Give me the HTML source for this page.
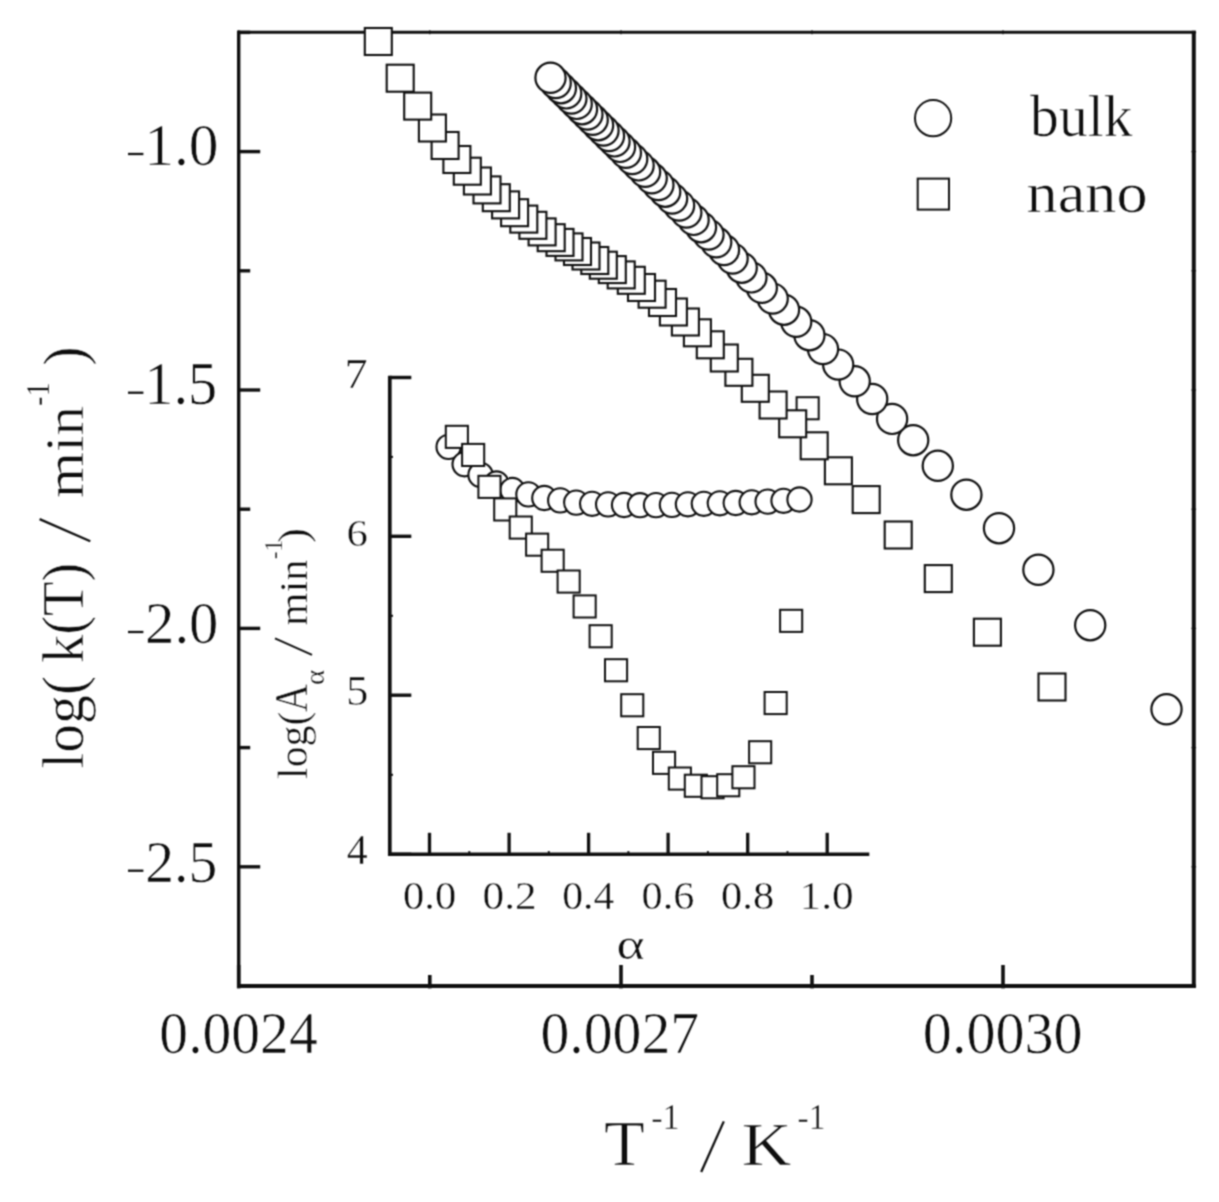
<!DOCTYPE html>
<html><head><meta charset="utf-8"><title>chart</title>
<style>
html,body{margin:0;padding:0;background:#fff;}
body{width:1219px;height:1202px;overflow:hidden;}
svg{display:block;}
text{font-family:"Liberation Serif",serif;fill:#0e0e0e;stroke:#fff;stroke-width:1.1;paint-order:fill stroke;}
.ln{stroke:#101010;fill:none;stroke-linecap:butt;}
.mk{stroke:#101010;fill:#fff;}
</style></head><body>
<svg width="1219" height="1202" viewBox="0 0 1219 1202">
<defs><filter id="soft" color-interpolation-filters="sRGB" x="0" y="0" width="100%" height="100%"><feConvolveMatrix order="3" kernelMatrix="0.05290 0.12420 0.05290 0.12420 0.29160 0.12420 0.05290 0.12420 0.05290" edgeMode="duplicate" preserveAlpha="true"/></filter></defs>
<g filter="url(#soft)">
<rect x="-5" y="-5" width="1229" height="1212" fill="#fff"/>
<line class="ln" x1="238.7" y1="30.8" x2="238.7" y2="988.0" stroke-width="3.40"/>
<line class="ln" x1="237.0" y1="32.3" x2="1195.8" y2="32.3" stroke-width="3.10"/>
<line class="ln" x1="1193.8" y1="30.8" x2="1193.8" y2="988.0" stroke-width="4.00"/>
<line class="ln" x1="237.0" y1="986.0" x2="1195.8" y2="986.0" stroke-width="4.10"/>
<line class="ln" x1="238.7" y1="151.6" x2="260.2" y2="151.6" stroke-width="3.40"/>
<line class="ln" x1="1191.5" y1="151.6" x2="1196.1" y2="151.6" stroke-width="1.20"/>
<line class="ln" x1="238.7" y1="390.0" x2="260.2" y2="390.0" stroke-width="3.40"/>
<line class="ln" x1="1191.5" y1="390.0" x2="1196.1" y2="390.0" stroke-width="1.20"/>
<line class="ln" x1="238.7" y1="628.4" x2="260.2" y2="628.4" stroke-width="3.40"/>
<line class="ln" x1="1191.5" y1="628.4" x2="1196.1" y2="628.4" stroke-width="1.20"/>
<line class="ln" x1="238.7" y1="866.8" x2="260.2" y2="866.8" stroke-width="3.40"/>
<line class="ln" x1="1191.5" y1="866.8" x2="1196.1" y2="866.8" stroke-width="1.20"/>
<line class="ln" x1="238.7" y1="32.4" x2="250.2" y2="32.4" stroke-width="3.40"/>
<line class="ln" x1="1191.5" y1="32.4" x2="1196.1" y2="32.4" stroke-width="1.20"/>
<line class="ln" x1="238.7" y1="270.8" x2="250.2" y2="270.8" stroke-width="3.40"/>
<line class="ln" x1="1191.5" y1="270.8" x2="1196.1" y2="270.8" stroke-width="1.20"/>
<line class="ln" x1="238.7" y1="509.2" x2="250.2" y2="509.2" stroke-width="3.40"/>
<line class="ln" x1="1191.5" y1="509.2" x2="1196.1" y2="509.2" stroke-width="1.20"/>
<line class="ln" x1="238.7" y1="747.6" x2="250.2" y2="747.6" stroke-width="3.40"/>
<line class="ln" x1="1191.5" y1="747.6" x2="1196.1" y2="747.6" stroke-width="1.20"/>
<line class="ln" x1="238.7" y1="986.0" x2="250.2" y2="986.0" stroke-width="3.40"/>
<line class="ln" x1="1191.5" y1="986.0" x2="1196.1" y2="986.0" stroke-width="1.20"/>
<line class="ln" x1="238.7" y1="988.4" x2="238.7" y2="965.0" stroke-width="3.60"/>
<line class="ln" x1="238.7" y1="30.3" x2="238.7" y2="34.2" stroke-width="1.20"/>
<line class="ln" x1="621.0" y1="988.4" x2="621.0" y2="965.0" stroke-width="3.60"/>
<line class="ln" x1="621.0" y1="30.3" x2="621.0" y2="34.2" stroke-width="1.20"/>
<line class="ln" x1="1003.0" y1="988.4" x2="1003.0" y2="965.0" stroke-width="3.60"/>
<line class="ln" x1="1003.0" y1="30.3" x2="1003.0" y2="34.2" stroke-width="1.20"/>
<line class="ln" x1="429.8" y1="988.4" x2="429.8" y2="975.0" stroke-width="3.60"/>
<line class="ln" x1="429.8" y1="30.3" x2="429.8" y2="34.2" stroke-width="1.20"/>
<line class="ln" x1="812.0" y1="988.4" x2="812.0" y2="975.0" stroke-width="3.60"/>
<line class="ln" x1="812.0" y1="30.3" x2="812.0" y2="34.2" stroke-width="1.20"/>
<line class="ln" x1="389.8" y1="375.8" x2="389.8" y2="856.1" stroke-width="3.70"/>
<line class="ln" x1="388.0" y1="854.3" x2="869.3" y2="854.3" stroke-width="3.50"/>
<line class="ln" x1="389.8" y1="377.5" x2="411.3" y2="377.5" stroke-width="3.40"/>
<line class="ln" x1="389.8" y1="536.3" x2="411.3" y2="536.3" stroke-width="3.40"/>
<line class="ln" x1="389.8" y1="695.2" x2="411.3" y2="695.2" stroke-width="3.40"/>
<line class="ln" x1="389.8" y1="854.3" x2="411.3" y2="854.3" stroke-width="3.40"/>
<line class="ln" x1="389.8" y1="456.9" x2="393.0" y2="456.9" stroke-width="2.00"/>
<line class="ln" x1="389.8" y1="615.8" x2="393.0" y2="615.8" stroke-width="2.00"/>
<line class="ln" x1="389.8" y1="774.8" x2="393.0" y2="774.8" stroke-width="2.00"/>
<line class="ln" x1="429.5" y1="855.8" x2="429.5" y2="832.8" stroke-width="3.30"/>
<line class="ln" x1="509.1" y1="855.8" x2="509.1" y2="832.8" stroke-width="3.30"/>
<line class="ln" x1="588.6" y1="855.8" x2="588.6" y2="832.8" stroke-width="3.30"/>
<line class="ln" x1="668.1" y1="855.8" x2="668.1" y2="832.8" stroke-width="3.30"/>
<line class="ln" x1="747.7" y1="855.8" x2="747.7" y2="832.8" stroke-width="3.30"/>
<line class="ln" x1="827.2" y1="855.8" x2="827.2" y2="832.8" stroke-width="3.30"/>
<line class="ln" x1="469.3" y1="854.3" x2="469.3" y2="851.1" stroke-width="2.00"/>
<line class="ln" x1="548.8" y1="854.3" x2="548.8" y2="851.1" stroke-width="2.00"/>
<line class="ln" x1="628.4" y1="854.3" x2="628.4" y2="851.1" stroke-width="2.00"/>
<line class="ln" x1="707.9" y1="854.3" x2="707.9" y2="851.1" stroke-width="2.00"/>
<line class="ln" x1="787.5" y1="854.3" x2="787.5" y2="851.1" stroke-width="2.00"/>
<circle class="mk" cx="448.6" cy="446.9" r="12.1" stroke-width="2.1"/>
<circle class="mk" cx="464.6" cy="464.3" r="12.1" stroke-width="2.1"/>
<circle class="mk" cx="480.5" cy="474.9" r="12.1" stroke-width="2.1"/>
<circle class="mk" cx="496.5" cy="483.5" r="12.1" stroke-width="2.1"/>
<circle class="mk" cx="512.4" cy="490.0" r="12.1" stroke-width="2.1"/>
<circle class="mk" cx="528.4" cy="494.4" r="12.1" stroke-width="2.1"/>
<circle class="mk" cx="544.3" cy="498.0" r="12.1" stroke-width="2.1"/>
<circle class="mk" cx="560.2" cy="500.4" r="12.1" stroke-width="2.1"/>
<circle class="mk" cx="576.2" cy="502.6" r="12.1" stroke-width="2.1"/>
<circle class="mk" cx="592.1" cy="503.8" r="12.1" stroke-width="2.1"/>
<circle class="mk" cx="608.1" cy="504.4" r="12.1" stroke-width="2.1"/>
<circle class="mk" cx="624.0" cy="505.0" r="12.1" stroke-width="2.1"/>
<circle class="mk" cx="640.0" cy="505.2" r="12.1" stroke-width="2.1"/>
<circle class="mk" cx="656.0" cy="505.1" r="12.1" stroke-width="2.1"/>
<circle class="mk" cx="671.9" cy="504.9" r="12.1" stroke-width="2.1"/>
<circle class="mk" cx="687.9" cy="504.3" r="12.1" stroke-width="2.1"/>
<circle class="mk" cx="703.8" cy="503.8" r="12.1" stroke-width="2.1"/>
<circle class="mk" cx="719.8" cy="503.3" r="12.1" stroke-width="2.1"/>
<circle class="mk" cx="735.7" cy="503.0" r="12.1" stroke-width="2.1"/>
<circle class="mk" cx="751.7" cy="502.3" r="12.1" stroke-width="2.1"/>
<circle class="mk" cx="767.6" cy="501.6" r="12.1" stroke-width="2.1"/>
<circle class="mk" cx="783.5" cy="500.8" r="12.1" stroke-width="2.1"/>
<circle class="mk" cx="799.5" cy="499.5" r="12.1" stroke-width="2.1"/>
<rect class="mk" x="445.8" y="425.8" width="22.1" height="22.1" stroke-width="2.0"/>
<rect class="mk" x="462.1" y="443.9" width="22.1" height="22.1" stroke-width="2.0"/>
<rect class="mk" x="478.4" y="475.8" width="22.1" height="22.1" stroke-width="2.0"/>
<rect class="mk" x="494.2" y="498.4" width="22.1" height="22.1" stroke-width="2.0"/>
<rect class="mk" x="509.7" y="516.5" width="22.1" height="22.1" stroke-width="2.0"/>
<rect class="mk" x="526.1" y="533.6" width="22.1" height="22.1" stroke-width="2.0"/>
<rect class="mk" x="541.6" y="549.7" width="22.1" height="22.1" stroke-width="2.0"/>
<rect class="mk" x="557.6" y="570.5" width="22.1" height="22.1" stroke-width="2.0"/>
<rect class="mk" x="573.6" y="595.4" width="22.1" height="22.1" stroke-width="2.0"/>
<rect class="mk" x="589.6" y="625.2" width="22.1" height="22.1" stroke-width="2.0"/>
<rect class="mk" x="605.0" y="659.2" width="22.1" height="22.1" stroke-width="2.0"/>
<rect class="mk" x="621.2" y="694.2" width="22.1" height="22.1" stroke-width="2.0"/>
<rect class="mk" x="637.7" y="727.0" width="22.1" height="22.1" stroke-width="2.0"/>
<rect class="mk" x="653.0" y="751.8" width="22.1" height="22.1" stroke-width="2.0"/>
<rect class="mk" x="668.8" y="767.5" width="22.1" height="22.1" stroke-width="2.0"/>
<rect class="mk" x="684.8" y="774.7" width="22.1" height="22.1" stroke-width="2.0"/>
<rect class="mk" x="701.5" y="776.2" width="22.1" height="22.1" stroke-width="2.0"/>
<rect class="mk" x="717.2" y="774.2" width="22.1" height="22.1" stroke-width="2.0"/>
<rect class="mk" x="732.4" y="766.2" width="22.1" height="22.1" stroke-width="2.0"/>
<rect class="mk" x="749.1" y="741.2" width="22.1" height="22.1" stroke-width="2.0"/>
<rect class="mk" x="764.6" y="692.0" width="22.1" height="22.1" stroke-width="2.0"/>
<rect class="mk" x="780.1" y="609.8" width="22.1" height="22.1" stroke-width="2.0"/>
<rect class="mk" x="796.6" y="397.2" width="22.1" height="22.1" stroke-width="2.0"/>
<circle class="mk" cx="1166.5" cy="709.3" r="15.1" stroke-width="2.2"/>
<circle class="mk" cx="1090.2" cy="625.2" r="15.1" stroke-width="2.2"/>
<circle class="mk" cx="1038.4" cy="569.8" r="15.1" stroke-width="2.2"/>
<circle class="mk" cx="999.0" cy="528.2" r="15.1" stroke-width="2.2"/>
<circle class="mk" cx="966.4" cy="494.7" r="15.1" stroke-width="2.2"/>
<circle class="mk" cx="937.8" cy="465.8" r="15.1" stroke-width="2.2"/>
<circle class="mk" cx="913.2" cy="440.2" r="15.1" stroke-width="2.2"/>
<circle class="mk" cx="892.1" cy="418.9" r="15.1" stroke-width="2.2"/>
<circle class="mk" cx="872.2" cy="399.0" r="15.1" stroke-width="2.2"/>
<circle class="mk" cx="854.7" cy="381.3" r="15.1" stroke-width="2.2"/>
<circle class="mk" cx="838.2" cy="364.6" r="15.1" stroke-width="2.2"/>
<circle class="mk" cx="823.0" cy="349.1" r="15.1" stroke-width="2.2"/>
<circle class="mk" cx="809.4" cy="335.2" r="15.1" stroke-width="2.2"/>
<circle class="mk" cx="796.2" cy="321.8" r="15.1" stroke-width="2.2"/>
<circle class="mk" cx="784.0" cy="309.7" r="15.1" stroke-width="2.2"/>
<circle class="mk" cx="772.7" cy="298.6" r="15.1" stroke-width="2.2"/>
<circle class="mk" cx="761.8" cy="287.8" r="15.1" stroke-width="2.2"/>
<circle class="mk" cx="751.4" cy="277.4" r="15.1" stroke-width="2.2"/>
<circle class="mk" cx="741.7" cy="267.7" r="15.1" stroke-width="2.2"/>
<circle class="mk" cx="732.6" cy="258.6" r="15.1" stroke-width="2.2"/>
<circle class="mk" cx="724.0" cy="250.0" r="15.1" stroke-width="2.2"/>
<circle class="mk" cx="716.2" cy="242.3" r="15.1" stroke-width="2.2"/>
<circle class="mk" cx="708.5" cy="234.6" r="15.1" stroke-width="2.2"/>
<circle class="mk" cx="701.0" cy="227.2" r="15.1" stroke-width="2.2"/>
<circle class="mk" cx="693.6" cy="219.9" r="15.1" stroke-width="2.2"/>
<circle class="mk" cx="686.3" cy="212.6" r="15.1" stroke-width="2.2"/>
<circle class="mk" cx="679.1" cy="205.5" r="15.1" stroke-width="2.2"/>
<circle class="mk" cx="672.1" cy="198.6" r="15.1" stroke-width="2.2"/>
<circle class="mk" cx="665.2" cy="191.7" r="15.1" stroke-width="2.2"/>
<circle class="mk" cx="658.4" cy="185.0" r="15.1" stroke-width="2.2"/>
<circle class="mk" cx="651.7" cy="178.3" r="15.1" stroke-width="2.2"/>
<circle class="mk" cx="645.1" cy="171.8" r="15.1" stroke-width="2.2"/>
<circle class="mk" cx="638.6" cy="165.4" r="15.1" stroke-width="2.2"/>
<circle class="mk" cx="632.2" cy="159.0" r="15.1" stroke-width="2.2"/>
<circle class="mk" cx="625.9" cy="152.8" r="15.1" stroke-width="2.2"/>
<circle class="mk" cx="620.0" cy="146.9" r="15.1" stroke-width="2.2"/>
<circle class="mk" cx="614.5" cy="141.4" r="15.1" stroke-width="2.2"/>
<circle class="mk" cx="609.0" cy="136.0" r="15.1" stroke-width="2.2"/>
<circle class="mk" cx="603.5" cy="130.5" r="15.1" stroke-width="2.2"/>
<circle class="mk" cx="598.1" cy="125.2" r="15.1" stroke-width="2.2"/>
<circle class="mk" cx="592.7" cy="119.8" r="15.1" stroke-width="2.2"/>
<circle class="mk" cx="587.4" cy="114.5" r="15.1" stroke-width="2.2"/>
<circle class="mk" cx="582.0" cy="109.2" r="15.1" stroke-width="2.2"/>
<circle class="mk" cx="576.7" cy="103.9" r="15.1" stroke-width="2.2"/>
<circle class="mk" cx="571.4" cy="98.6" r="15.1" stroke-width="2.2"/>
<circle class="mk" cx="566.2" cy="93.4" r="15.1" stroke-width="2.2"/>
<circle class="mk" cx="560.9" cy="88.2" r="15.1" stroke-width="2.2"/>
<circle class="mk" cx="555.7" cy="83.0" r="15.1" stroke-width="2.2"/>
<circle class="mk" cx="550.5" cy="77.8" r="15.1" stroke-width="2.2"/>
<rect class="mk" x="1038.5" y="673.5" width="27.0" height="27.0" stroke-width="2.1"/>
<rect class="mk" x="973.9" y="618.7" width="27.0" height="27.0" stroke-width="2.1"/>
<rect class="mk" x="924.8" y="565.1" width="27.0" height="27.0" stroke-width="2.1"/>
<rect class="mk" x="884.7" y="521.5" width="27.0" height="27.0" stroke-width="2.1"/>
<rect class="mk" x="852.7" y="486.1" width="27.0" height="27.0" stroke-width="2.1"/>
<rect class="mk" x="824.9" y="457.3" width="27.0" height="27.0" stroke-width="2.1"/>
<rect class="mk" x="800.7" y="432.3" width="27.0" height="27.0" stroke-width="2.1"/>
<rect class="mk" x="779.2" y="410.3" width="27.0" height="27.0" stroke-width="2.1"/>
<rect class="mk" x="759.6" y="391.5" width="27.0" height="27.0" stroke-width="2.1"/>
<rect class="mk" x="741.8" y="374.8" width="27.0" height="27.0" stroke-width="2.1"/>
<rect class="mk" x="725.4" y="358.8" width="27.0" height="27.0" stroke-width="2.1"/>
<rect class="mk" x="710.8" y="344.5" width="27.0" height="27.0" stroke-width="2.1"/>
<rect class="mk" x="696.8" y="331.3" width="27.0" height="27.0" stroke-width="2.1"/>
<rect class="mk" x="683.9" y="319.3" width="27.0" height="27.0" stroke-width="2.1"/>
<rect class="mk" x="671.9" y="308.5" width="27.0" height="27.0" stroke-width="2.1"/>
<rect class="mk" x="659.9" y="298.5" width="27.0" height="27.0" stroke-width="2.1"/>
<rect class="mk" x="649.0" y="289.0" width="27.0" height="27.0" stroke-width="2.1"/>
<rect class="mk" x="638.6" y="280.7" width="27.0" height="27.0" stroke-width="2.1"/>
<rect class="mk" x="628.0" y="274.0" width="27.0" height="27.0" stroke-width="2.1"/>
<rect class="mk" x="617.8" y="266.8" width="27.0" height="27.0" stroke-width="2.1"/>
<rect class="mk" x="607.7" y="261.4" width="27.0" height="27.0" stroke-width="2.1"/>
<rect class="mk" x="598.8" y="256.1" width="27.0" height="27.0" stroke-width="2.1"/>
<rect class="mk" x="589.8" y="251.7" width="27.0" height="27.0" stroke-width="2.1"/>
<rect class="mk" x="581.3" y="247.0" width="27.0" height="27.0" stroke-width="2.1"/>
<rect class="mk" x="572.5" y="242.5" width="27.0" height="27.0" stroke-width="2.1"/>
<rect class="mk" x="564.0" y="238.0" width="27.0" height="27.0" stroke-width="2.1"/>
<rect class="mk" x="555.5" y="233.4" width="27.0" height="27.0" stroke-width="2.1"/>
<rect class="mk" x="546.5" y="228.9" width="27.0" height="27.0" stroke-width="2.1"/>
<rect class="mk" x="537.7" y="224.2" width="27.0" height="27.0" stroke-width="2.1"/>
<rect class="mk" x="528.6" y="218.4" width="27.0" height="27.0" stroke-width="2.1"/>
<rect class="mk" x="519.4" y="211.8" width="27.0" height="27.0" stroke-width="2.1"/>
<rect class="mk" x="510.3" y="205.6" width="27.0" height="27.0" stroke-width="2.1"/>
<rect class="mk" x="501.1" y="199.2" width="27.0" height="27.0" stroke-width="2.1"/>
<rect class="mk" x="492.1" y="191.4" width="27.0" height="27.0" stroke-width="2.1"/>
<rect class="mk" x="482.8" y="184.2" width="27.0" height="27.0" stroke-width="2.1"/>
<rect class="mk" x="473.5" y="176.4" width="27.0" height="27.0" stroke-width="2.1"/>
<rect class="mk" x="463.9" y="167.5" width="27.0" height="27.0" stroke-width="2.1"/>
<rect class="mk" x="453.8" y="157.7" width="27.0" height="27.0" stroke-width="2.1"/>
<rect class="mk" x="443.4" y="146.0" width="27.0" height="27.0" stroke-width="2.1"/>
<rect class="mk" x="431.6" y="132.0" width="27.0" height="27.0" stroke-width="2.1"/>
<rect class="mk" x="418.9" y="114.5" width="27.0" height="27.0" stroke-width="2.1"/>
<rect class="mk" x="404.2" y="92.6" width="27.0" height="27.0" stroke-width="2.1"/>
<rect class="mk" x="386.7" y="64.7" width="27.0" height="27.0" stroke-width="2.1"/>
<rect class="mk" x="364.8" y="28.0" width="27.0" height="27.0" stroke-width="2.1"/>
<circle class="mk" cx="933.1" cy="118.2" r="18.1" stroke-width="2"/>
<rect class="mk" x="917.7" y="178.6" width="31.3" height="31.0" stroke-width="2"/>
<text transform="translate(144.20,164.92) scale(0.5947,0.5897)" font-size="100">1.0</text>
<text transform="translate(144.29,403.59) scale(0.5844,0.6059)" font-size="100">1.5</text>
<text transform="translate(145.10,642.90) scale(0.5872,0.5985)" font-size="100">2.0</text>
<text transform="translate(145.15,881.60) scale(0.5773,0.6007)" font-size="100">2.5</text>
<line class="ln" x1="128.0" y1="154.0" x2="143.4" y2="154.0" stroke-width="2.3"/>
<line class="ln" x1="128.0" y1="392.7" x2="143.4" y2="392.7" stroke-width="2.3"/>
<line class="ln" x1="128.0" y1="632.0" x2="143.4" y2="632.0" stroke-width="2.3"/>
<line class="ln" x1="128.0" y1="870.7" x2="143.4" y2="870.7" stroke-width="2.3"/>
<text transform="translate(159.34,1053.02) scale(0.5761,0.5868)" font-size="100">0.0024</text>
<text transform="translate(540.44,1053.02) scale(0.5773,0.5868)" font-size="100">0.0027</text>
<text transform="translate(922.82,1053.02) scale(0.5813,0.5868)" font-size="100">0.0030</text>
<text transform="translate(1030.10,135.92) scale(0.5761,0.5830)" font-size="100">bulk</text>
<text transform="translate(1026.60,211.72) scale(0.6223,0.5792)" font-size="100">nano</text>
<text transform="translate(604.03,1164.90) scale(0.6684,0.6321)" font-size="100">T</text>
<text transform="translate(651.21,1128.90) scale(0.3429,0.3591)" font-size="100">-1</text>
<text transform="translate(741.81,1164.90) scale(0.6891,0.6229)" font-size="100">K</text>
<text transform="translate(797.54,1128.90) scale(0.3347,0.3591)" font-size="100">-1</text>
<line class="ln" x1="701.2" y1="1172.0" x2="723.8" y2="1121.4" stroke-width="2.3"/>
<text transform="translate(82.90,768.75) rotate(-90) scale(0.5766,0.5885)" font-size="100">log(</text>
<text transform="translate(82.90,662.93) rotate(-90) scale(0.5644,0.5885)" font-size="100">k(T)</text>
<line class="ln" x1="90.3" y1="541.3" x2="39.6" y2="519.1" stroke-width="2.3"/>
<text transform="translate(82.90,497.88) rotate(-90) scale(0.5908,0.5532)" font-size="100">min</text>
<text transform="translate(48.90,405.97) rotate(-90) scale(0.2857,0.3470)" font-size="100">-1</text>
<text transform="translate(84.28,365.78) rotate(-90) scale(0.5786,0.5939)" font-size="100">)</text>
<text transform="translate(344.49,388.10) scale(0.4638,0.4168)" font-size="100">7</text>
<text transform="translate(346.58,545.72) scale(0.4281,0.3822)" font-size="100">6</text>
<text transform="translate(346.36,704.98) scale(0.4422,0.4195)" font-size="100">5</text>
<text transform="translate(346.66,864.10) scale(0.4194,0.4137)" font-size="100">4</text>
<text transform="translate(403.10,909.20) scale(0.4255,0.4015)" font-size="100">0.0</text>
<text transform="translate(482.58,909.20) scale(0.4320,0.4015)" font-size="100">0.2</text>
<text transform="translate(562.13,909.20) scale(0.4175,0.4015)" font-size="100">0.4</text>
<text transform="translate(641.61,909.20) scale(0.4228,0.4015)" font-size="100">0.6</text>
<text transform="translate(721.10,909.20) scale(0.4255,0.4015)" font-size="100">0.8</text>
<text transform="translate(799.61,909.20) scale(0.4329,0.4015)" font-size="100">1.0</text>
<text transform="translate(616.39,958.65) scale(0.5355,0.4497)" font-size="100">α</text>
<text transform="translate(306.60,778.94) rotate(-90) scale(0.4186,0.4273)" font-size="100">log(</text>
<text transform="translate(306.60,712.09) rotate(-90) scale(0.3872,0.4591)" font-size="100">A</text>
<text transform="translate(324.32,684.88) rotate(-90) scale(0.2882,0.2777)" font-size="100">α</text>
<line class="ln" x1="312.0" y1="654.9" x2="275.0" y2="638.4" stroke-width="2.0"/>
<text transform="translate(306.60,625.65) rotate(-90) scale(0.4250,0.4085)" font-size="100">min</text>
<text transform="translate(281.50,559.29) rotate(-90) scale(0.2367,0.2470)" font-size="100">-1</text>
<text transform="translate(307.37,542.96) rotate(-90) scale(0.4505,0.4298)" font-size="100">)</text>
</g>
</svg>
</body></html>
